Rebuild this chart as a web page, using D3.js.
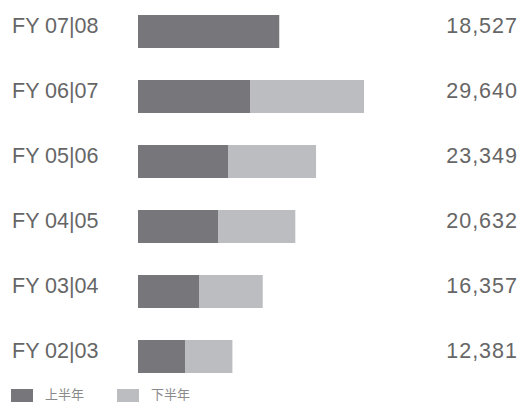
<!DOCTYPE html>
<html>
<head>
<meta charset="utf-8">
<script src="https://cdn.jsdelivr.net/npm/d3@7"></script>
<style>
  html, body { margin: 0; padding: 0; background: #fff; }
  text { font-family: "Liberation Sans", Arial, sans-serif; }
</style>
</head>
<body>
<div id="vis"></div>
<script>
const YEARS = ["FY 07|08", "FY 06|07", "FY 05|06", "FY 04|05", "FY 03|04", "FY 02|03"];
const FIRST_HALF = [18527, 14689, 11803, 10492, 8000, 6164];
const TOTALS = [18527, 29640, 23349, 20632, 16357, 12381];
const LEGEND = ["上半年", "下半年"];

const WIDTH = 522;
const HEIGHT = 402;
const BAR_H = 33;

const DARK = "#77777b";
const LIGHT = "#bcbdc1";

const xScale = d3.scaleLinear([0, d3.max(TOTALS)], [138, 364]);
const yScale = d3.scalePoint(YEARS, [15, 340]);

const svg = d3.select("#vis")
              .append("svg")
                .attr("width", WIDTH)
                .attr("height", HEIGHT);

const rows = svg.selectAll("g.row")
   .data(YEARS)
   .enter()
   .append("g")
     .attr("class", "row")
     .attr("transform", d => `translate(0, ${yScale(d)})`);

// first half
rows.append("rect")
      .attr("x", xScale(0))
      .attr("y", 0)
      .attr("width", (d, i) => xScale(FIRST_HALF[i]) - xScale(0))
      .attr("height", BAR_H)
      .attr("fill", DARK);

// second half
rows.append("rect")
      .attr("x", (d, i) => xScale(FIRST_HALF[i]))
      .attr("y", 0)
      .attr("width", (d, i) => xScale(TOTALS[i]) - xScale(FIRST_HALF[i]))
      .attr("height", BAR_H)
      .attr("fill", LIGHT);

rows.append("text")
      .attr("x", 12)
      .attr("y", 17.7)
      .attr("font-size", 21.5)
      .attr("fill", "#666")
      .text(d => d);

rows.append("text")
      .attr("x", 518)
      .attr("y", 17.7)
      .attr("text-anchor", "end")
      .attr("font-size", 21.5)
      .attr("letter-spacing", 1)
      .attr("fill", "#666")
      .text((d, i) => d3.format(",")(TOTALS[i]));

const legend = svg.selectAll("g.legend")
   .data(LEGEND)
   .enter()
   .append("g")
     .attr("class", "legend")
     .attr("transform", (d, i) => `translate(${11 + i * 106}, 389)`);

legend.append("rect")
        .attr("width", 22)
        .attr("height", 14)
        .attr("fill", (d, i) => i === 0 ? DARK : LIGHT);

legend.append("text")
        .attr("x", 34)
        .attr("y", 9.5)
        .attr("font-size", 13)
        .attr("fill", "#8a8a8a")
        .style("font-family", "'Noto Sans CJK SC', sans-serif")
        .text(d => d);
</script>
</body>
</html>
